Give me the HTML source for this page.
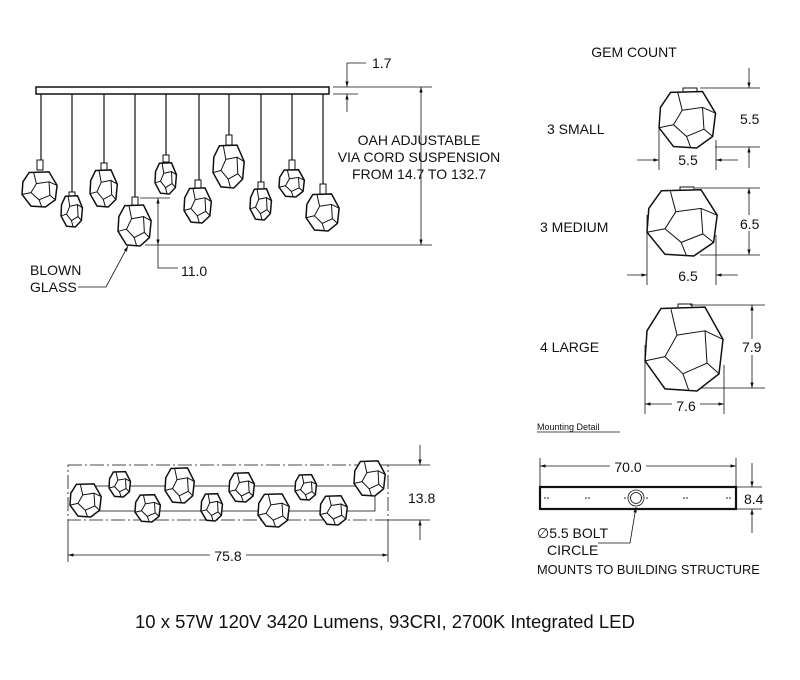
<!DOCTYPE html>
<html><head><meta charset="utf-8"><style>
html,body{margin:0;padding:0;background:#fff}
svg{display:block}
text{font-family:"Liberation Sans",sans-serif;fill:#111}
</style></head><body>
<svg width="800" height="680" viewBox="0 0 800 680" xmlns="http://www.w3.org/2000/svg">
<defs>
<marker id="a" viewBox="0 0 10 10" refX="10" refY="5" markerWidth="7" markerHeight="7" orient="auto-start-reverse"><path d="M0,2 L10,5 L0,8 z" fill="#111"/></marker>
<g id="gem">
<polygon points="-0.6,-0.92 0.5,-0.95 0.95,-0.2 0.85,0.6 0.3,1 -0.5,0.95 -1,0.3 -0.95,-0.4" fill="#fff" stroke="#111" stroke-width="1.5" vector-effect="non-scaling-stroke"/>
<polyline points="-0.2,-0.3 0.5,-0.4 0.55,0.35 -0.05,0.6 -0.5,0.2 -0.2,-0.3" fill="none" stroke="#111" stroke-width="1" vector-effect="non-scaling-stroke"/>
<path d="M-0.2,-0.3 L-0.35,-0.9 M0.5,-0.4 L0.95,-0.2 M0.55,0.35 L0.85,0.6 M-0.05,0.6 L0.1,1 M-0.5,0.2 L-1,0.3" stroke="#111" stroke-width="1" fill="none" vector-effect="non-scaling-stroke"/>
</g>
</defs>
<g stroke="#111" fill="none" stroke-width="1">
<path d="M41,94V170 M72,94V196 M104,94V170 M135,94V205 M166,94V162 M199,94V188 M229,94V142 M261,94V189 M292,94V170 M323,94V194" stroke-width="1.2"/>
</g>
<g fill="#fff" stroke="#111" stroke-width="1">
<rect x="37" y="160" width="6" height="10"/><rect x="69" y="192" width="6" height="6"/><rect x="101" y="163" width="6" height="8"/>
<rect x="132" y="197" width="6" height="8"/><rect x="163" y="155" width="6" height="7"/><rect x="195" y="180" width="6" height="8"/>
<rect x="226" y="135" width="6" height="10"/><rect x="258" y="182" width="6" height="7"/><rect x="289" y="160" width="6" height="10"/>
<rect x="320" y="184" width="6" height="10"/>
</g>
<use href="#gem" transform="translate(40,189) scale(18)"/>
<use href="#gem" transform="translate(72,211) scale(11,16)"/>
<use href="#gem" transform="translate(104,188) scale(14,19)"/>
<use href="#gem" transform="translate(135,225) scale(17,21)"/>
<use href="#gem" transform="translate(166,178) scale(11,16)"/>
<use href="#gem" transform="translate(198,205) scale(14,18)"/>
<use href="#gem" transform="translate(229,166) scale(16,22)"/>
<use href="#gem" transform="translate(261,204) scale(11,16)"/>
<use href="#gem" transform="translate(292,183) scale(13,14)"/>
<use href="#gem" transform="translate(323,212) scale(17,19)"/>
<g stroke="#111" fill="none" stroke-width="0.8">
<path d="M333,87H432 M333,94H358"/>
<path d="M347,63V87" marker-end="url(#a)"/>
<path d="M347,112V94" marker-end="url(#a)"/>
<path d="M347,63H366"/>
<path d="M145,245H432"/>
<path d="M421,87V245" marker-start="url(#a)" marker-end="url(#a)"/>
<path d="M140,198H170"/>
<path d="M158,198V245" marker-start="url(#a)" marker-end="url(#a)"/>
<path d="M158,245V268H178"/>
<path d="M78,287H106L128,246" marker-end="url(#a)"/>
</g>
<rect x="36" y="87" width="293" height="7" fill="#fff" stroke="#111" stroke-width="1.5"/>
<text x="372" y="68" font-size="14">1.7</text>
<text x="419" y="145" font-size="14" text-anchor="middle">OAH ADJUSTABLE</text>
<text x="419" y="162" font-size="14" text-anchor="middle">VIA CORD SUSPENSION</text>
<text x="419" y="179" font-size="14" text-anchor="middle">FROM 14.7 TO 132.7</text>
<text x="181" y="276" font-size="14">11.0</text>
<text x="30" y="275" font-size="14">BLOWN</text>
<text x="30" y="292" font-size="14">GLASS</text>

<text x="634" y="57" font-size="14" text-anchor="middle">GEM COUNT</text>
<text x="547" y="134" font-size="14">3 SMALL</text>
<text x="540" y="232" font-size="14">3 MEDIUM</text>
<text x="540" y="352" font-size="14">4 LARGE</text>
<rect x="683" y="88" width="14" height="4" fill="#fff" stroke="#111"/>
<use href="#gem" transform="translate(688,119) scale(29,29)"/>
<rect x="680" y="187" width="14" height="4" fill="#fff" stroke="#111"/>
<use href="#gem" transform="translate(683,222) scale(36,34)"/>
<rect x="678" y="304" width="14" height="4" fill="#fff" stroke="#111"/>
<use href="#gem" transform="translate(685,348) scale(40,43)"/>
<g stroke="#111" fill="none" stroke-width="0.8">
<path d="M700,88H760 M715,147H760"/>
<path d="M749,68V88" marker-end="url(#a)"/>
<path d="M749,168V147" marker-end="url(#a)"/>
<path d="M659,125V170 M716,140V170"/>
<path d="M637,160H659" marker-end="url(#a)"/>
<path d="M738,160H716" marker-end="url(#a)"/>
<path d="M695,188H760 M700,255H760"/>
<path d="M749,188V255" marker-start="url(#a)" marker-end="url(#a)"/>
<path d="M647,215V285 M716,235V285"/>
<path d="M627,275H647" marker-end="url(#a)"/>
<path d="M738,275H716" marker-end="url(#a)"/>
<path d="M690,305H765 M700,388H765"/>
<path d="M752,305V388" marker-start="url(#a)" marker-end="url(#a)"/>
<path d="M645,345V414 M724,365V414"/>
<path d="M645,404H724" marker-start="url(#a)" marker-end="url(#a)"/>
</g>
<rect x="733" y="112" width="30" height="16" fill="#fff"/>
<text x="740" y="124" font-size="14">5.5</text>
<text x="688" y="165" font-size="14" text-anchor="middle">5.5</text>
<rect x="733" y="215" width="30" height="16" fill="#fff"/>
<text x="740" y="229" font-size="14">6.5</text>
<text x="688" y="281" font-size="14" text-anchor="middle">6.5</text>
<rect x="736" y="339" width="30" height="16" fill="#fff"/>
<text x="742" y="352" font-size="14">7.9</text>
<rect x="672" y="398" width="28" height="14" fill="#fff"/>
<text x="686" y="411" font-size="14" text-anchor="middle">7.6</text>
<text x="537" y="430" font-size="9">Mounting  Detail</text>
<path d="M537,432H620" stroke="#111" stroke-width="0.7"/>

<g stroke="#111" fill="none" stroke-width="0.8">
<rect x="68" y="465" width="320" height="55" stroke-dasharray="14,3,2,3"/>
<rect x="80" y="486" width="295" height="25"/>
<path d="M388,465H430 M388,520H430"/>
<path d="M420,445V465" marker-end="url(#a)"/>
<path d="M420,540V520" marker-end="url(#a)"/>
<path d="M68,520V562 M388,520V562"/>
<path d="M68,555H388" marker-start="url(#a)" marker-end="url(#a)"/>
</g>
<use href="#gem" transform="translate(86,500) scale(16,17)"/>
<use href="#gem" transform="translate(120,484) scale(11,13)"/>
<use href="#gem" transform="translate(148,508) scale(13,14)"/>
<use href="#gem" transform="translate(180,485) scale(15,18)"/>
<use href="#gem" transform="translate(212,507) scale(11,14)"/>
<use href="#gem" transform="translate(242,487) scale(13,15)"/>
<use href="#gem" transform="translate(274,510) scale(16,17)"/>
<use href="#gem" transform="translate(306,487) scale(11,13)"/>
<use href="#gem" transform="translate(334,510) scale(14,15)"/>
<use href="#gem" transform="translate(370,478) scale(16,18)"/>
<rect x="405" y="488" width="34" height="18" fill="#fff"/>
<text x="408" y="503" font-size="14">13.8</text>
<rect x="210" y="548" width="36" height="14" fill="#fff"/>
<text x="228" y="561" font-size="14" text-anchor="middle">75.8</text>

<g stroke="#111" fill="none" stroke-width="0.8">
<path d="M540,458V487 M736,458V487"/>
<path d="M540,466H736" marker-start="url(#a)" marker-end="url(#a)"/>
<rect x="540" y="487" width="196" height="22" stroke-width="2.2"/>
<path d="M736,487H762 M736,509H762"/>
<path d="M752,463V487" marker-end="url(#a)"/>
<path d="M752,533V509" marker-end="url(#a)"/>
<circle cx="636" cy="498" r="8"/>
<circle cx="636" cy="498" r="5.5"/>
<path d="M598,543H630L636,507" marker-end="url(#a)"/>
</g>
<g fill="#111">
<circle cx="545" cy="498" r="0.8"/><circle cx="548" cy="498" r="0.8"/>
<circle cx="586" cy="498" r="0.8"/><circle cx="589" cy="498" r="0.8"/>
<circle cx="625" cy="498" r="0.8"/><circle cx="647" cy="498" r="0.8"/>
<circle cx="684" cy="498" r="0.8"/><circle cx="687" cy="498" r="0.8"/>
<circle cx="727" cy="498" r="0.8"/><circle cx="730" cy="498" r="0.8"/>
</g>
<rect x="610" y="459" width="36" height="14" fill="#fff"/>
<text x="628" y="472" font-size="14" text-anchor="middle">70.0</text>
<rect x="742" y="491" width="24" height="15" fill="#fff"/>
<text x="744" y="504" font-size="14">8.4</text>
<text x="537" y="538" font-size="14">∅5.5 BOLT</text>
<text x="547" y="555" font-size="14">CIRCLE</text>
<text x="537" y="574" font-size="12.8">MOUNTS TO BUILDING STRUCTURE</text>
<text x="135" y="628" font-size="18.5">10 x 57W 120V 3420 Lumens, 93CRI, 2700K Integrated LED</text>
</svg>
</body></html>
